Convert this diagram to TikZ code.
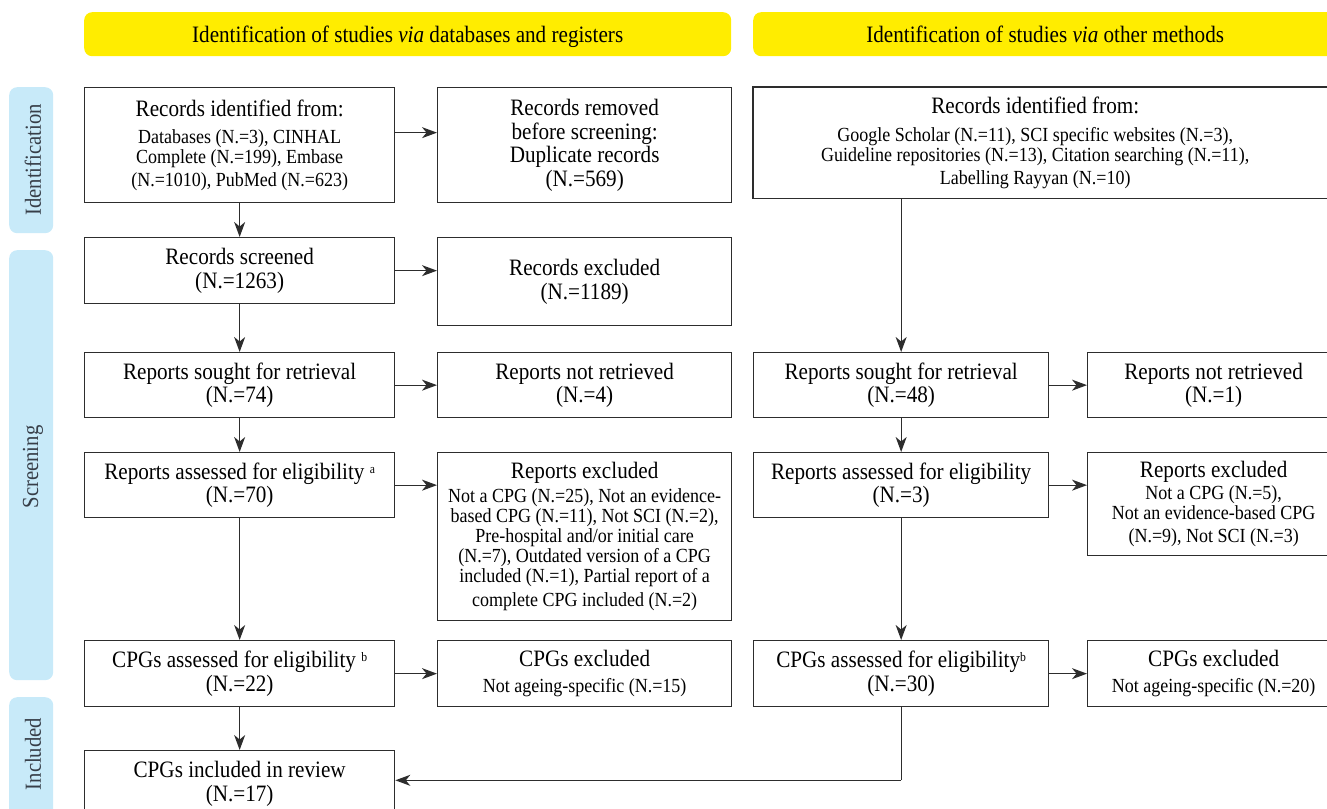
\documentclass[tikz,border=0pt]{standalone}
\usepackage{fontspec}
\setmainfont{Liberation Serif}[FakeStretch=0.9]
\usetikzlibrary{arrows.meta}
\definecolor{hdr}{RGB}{255,237,0}
\definecolor{sidebg}{RGB}{200,234,249}
\definecolor{sidetxt}{RGB}{55,62,72}
\definecolor{ln}{RGB}{45,45,45}
\newcommand\natspc{\spaceskip=\fontdimen2\font\relax\xspaceskip=0pt\relax}
\newcommand\msz{\fontsize{23.5}{23.5}\selectfont\natspc}
\newcommand\dsz{\fontsize{20}{20}\selectfont\natspc}
\newcommand\supl[1]{\raisebox{6pt}{\fontsize{13}{13}\selectfont #1}}
\begin{document}
\begin{tikzpicture}[x=1pt,y=-1pt,
  box/.style={draw=ln, line width=1.3pt, align=center, inner sep=0pt, font=\msz, anchor=north west, fill=white, execute at begin node=\natspc},
  txtbox/.style={align=center, inner sep=0pt, font=\msz, anchor=north west, execute at begin node=\natspc},
  hdrbox/.style={fill=hdr, rounded corners=8pt, inner sep=0pt, anchor=north west},
  sidebox/.style={fill=sidebg, rounded corners=8pt, inner sep=0pt, anchor=north west},
  sidelab/.style={rotate=90, font=\fontsize{23}{24}\selectfont, text=sidetxt},
  hdrlab/.style={font=\msz, inner sep=0pt, anchor=base},
  arr/.style={draw=ln, line width=1.3pt, -{Stealth[length=15pt,width=11pt,inset=4.5pt]}},
  plain/.style={draw=ln, line width=1.3pt}]
\useasboundingbox (0,0) rectangle (1327,808);
% headers
\node[hdrbox, minimum width=647, minimum height=44] (h1) at (84,12) {};
\node[hdrbox, minimum width=590, minimum height=44] (h2) at (753,12) {};
\node[hdrlab] (h1t) at ([yshift=-8.5pt]h1.center) {Identification of studies \textit{via} databases and registers};
\node[hdrlab] (h2t) at ([xshift=-3pt,yshift=-8.5pt]h2.center) {Identification of studies \textit{via} other methods};
% side bars
\node[sidebox, minimum width=44, minimum height=146] (s1) at (9,87) {};
\node[sidebox, minimum width=44, minimum height=430] (s2) at (9,250) {};
\node[sidebox, minimum width=44, minimum height=130] (s3) at (9,697) {};
\node[sidelab] (t1) at (33,160) {Identification};
\node[sidelab] (t2) at (33,467) {Screening};
\node[sidelab] (t3) at (33,754) {Included};
% left column
\node[box, minimum width=310, minimum height=115, text width=306] (b1) at (84,87) {Records identified from:\\[7pt]\dsz Databases (N.=3), CINHAL\\ Complete (N.=199), Embase\\ (N.=1010), PubMed (N.=623)};
\node[box, minimum width=310, minimum height=66, text width=306] (b2) at (84,237) {Records screened\\(N.=1263)};
\node[box, minimum width=310, minimum height=65, text width=306] (b3) at (84,352) {Reports sought for retrieval\\(N.=74)};
\node[box, minimum width=310, minimum height=65, text width=306] (b4) at (84,452) {Reports assessed for eligibility \supl{a}\\(N.=70)};
\node[box, minimum width=310, minimum height=66, text width=306] (b5) at (84,640) {CPGs assessed for eligibility \supl{b}\\(N.=22)};
\node[box, minimum width=310, minimum height=66, text width=306] (b6) at (84,750) {CPGs included in review\\(N.=17)};
% middle column
\node[box, minimum width=294, minimum height=115, text width=292] (m1) at (437,87) {Records removed\\before screening:\\Duplicate records\\(N.=569)};
\node[box, minimum width=294, minimum height=88, text width=292] (m2) at (437,237) {Records excluded\\(N.=1189)};
\node[box, minimum width=294, minimum height=65, text width=292] (m3) at (437,352) {Reports not retrieved\\(N.=4)};
\node[box, minimum width=294, minimum height=168, text width=294] (m4) at (437,452) {Reports excluded\\[4pt]\dsz Not a CPG (N.=25), Not an evidence-\\ based CPG (N.=11), Not SCI (N.=2),\\ Pre-hospital and/or initial care\\ (N.=7), Outdated version of a CPG\\ included (N.=1), Partial report of a\\ complete CPG included (N.=2)};
\node[box, minimum width=294, minimum height=66, text width=292] (m5) at (437,640) {CPGs excluded\\[2pt]\dsz Not ageing-specific (N.=15)};
% right column
\node[txtbox, minimum width=564, minimum height=111, text width=560] (r1) at (753,87) {Records identified from:\\[8pt]\dsz Google Scholar (N.=11), SCI specific websites (N.=3),\\ Guideline repositories (N.=13), Citation searching (N.=11),\\ Labelling Rayyan (N.=10)};
\draw[plain] (r1.north west) rectangle ([xshift=20pt]r1.south east);
\node[box, minimum width=295, minimum height=65, text width=292] (r2) at (753,352) {Reports sought for retrieval\\(N.=48)};
\node[box, minimum width=252, minimum height=65, text width=250] (r3) at (1087,352) {Reports not retrieved\\(N.=1)};
\node[box, minimum width=295, minimum height=65, text width=292] (r4) at (753,452) {Reports assessed for eligibility\\(N.=3)};
\node[box, minimum width=252, minimum height=103, text width=250] (r5) at (1087,452) {Reports excluded\\[2pt]\dsz Not a CPG (N.=5),\\ Not an evidence-based CPG\\ (N.=9), Not SCI (N.=3)};
\node[box, minimum width=295, minimum height=66, text width=292] (r6) at (753,640) {CPGs assessed for eligibility\supl{b}\\(N.=30)};
\node[box, minimum width=252, minimum height=66, text width=250] (r7) at (1087,640) {CPGs excluded\\[2pt]\dsz Not ageing-specific (N.=20)};
% arrows left
\draw[arr] (b1.south) -- (b2.north);
\draw[arr] ([yshift=12.5pt]b1.east) -- ([yshift=12.5pt]m1.west);
\draw[arr] (b2.east) -- (b2.east -| m2.west);
\draw[arr] (b3.east) -- (m3.west);
\draw[arr] (b2.south) -- (b3.north);
\draw[arr] (b3.south) -- (b4.north);
\draw[arr] (b4.east) -- (b4.east -| m4.west);
\draw[arr] (b4.south) -- (b5.north);
\draw[arr] (b5.east) -- (m5.west);
\draw[arr] (b5.south) -- (b6.north);
% arrows right
\draw[arr] (r1.south -| r2.north) -- (r2.north);
\draw[arr] (r2.east) -- (r3.west);
\draw[arr] (r2.south) -- (r4.north);
\draw[arr] (r4.east) -- (r4.east -| r5.west);
\draw[arr] (r4.south) -- (r6.north);
\draw[arr] (r6.east) -- (r7.west);
\coordinate (bend) at ([yshift=-73pt]r6.south);
\draw[plain] (r6.south) -- (bend);
\draw[arr] (bend) -- (bend -| b6.east);
\end{tikzpicture}
\end{document}
